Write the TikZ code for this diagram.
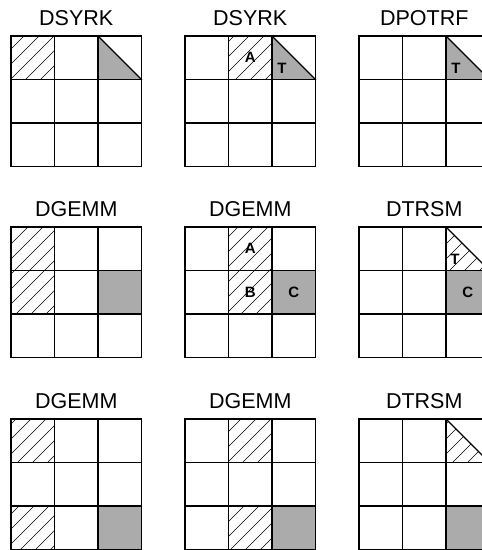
\documentclass[tikz,border=0pt]{standalone}
\usepackage{fontspec}
\setmainfont{Liberation Sans}
\tikzset{
  gridline/.style={line width=1.3pt, black, line cap=rect},
  hatchline/.style={line width=0.6pt, black},
  shade/.style={fill=black!33},
  title/.style={anchor=base, inner sep=0pt, font=\fontsize{21.5}{25}\selectfont},
  lab/.style={inner sep=0pt, font=\bfseries\fontsize{15}{17}\selectfont},
}
% grid of 3x3 cells, cell size 43.5
\newcommand\gridat[2]{%
  \foreach \i in {0,1,2,3}{%
    \draw[gridline] (#1+\i*43.5,#2) -- ++(0,130.5);
    \draw[gridline] (#1,#2+\i*43.5) -- ++(130.5,0);
  }}
\newcommand\hatchlines{\foreach \k in {0,15,...,1080}{\draw[hatchline] (\k,0) -- (\k-600,600);}}
\newcommand\hatchcell[4]{%
  \begin{scope}\clip (#1+#3*43.5,#2+#4*43.5) rectangle ++(43.5,43.5);\hatchlines\end{scope}}
\newcommand\fillcell[4]{%
  \fill[shade] (#1+#3*43.5,#2+#4*43.5) rectangle ++(43.5,43.5);}
\newcommand\tripath[4]{(#1+#3*43.5,#2+#4*43.5) -- ++(0,43.5) -- ++(43.5,0) -- cycle}
\newcommand\filltri[4]{%
  \fill[shade] \tripath{#1}{#2}{#3}{#4};
  \draw[gridline] (#1+#3*43.5,#2+#4*43.5) -- ++(43.5,43.5);}
\newcommand\hatchtri[4]{%
  \begin{scope}\clip \tripath{#1}{#2}{#3}{#4};\hatchlines\end{scope}
  \draw[gridline] (#1+#3*43.5,#2+#4*43.5) -- ++(43.5,43.5);}
\begin{document}
\begin{tikzpicture}[x=1pt,y=-1pt]
\useasboundingbox (0,0) rectangle (482,550);
\clip (0,0) rectangle (482,550);
\fill[white] (0,0) rectangle (482,550);

% ---------- row 1 ----------
\hatchcell{11}{36}{0}{0}
\filltri{11}{36}{2}{0}
\gridat{11}{36}
\node[title] (t11) at (76.25,25) {DSYRK};

\hatchcell{185}{36}{1}{0}
\filltri{185}{36}{2}{0}
\gridat{185}{36}
\node[title] (t12) at (250.25,25) {DSYRK};
\node[lab] (a12) at (250.25,57.75) {A};
\node[lab] (tt12) at (282,68) {T};

\filltri{359}{36}{2}{0}
\gridat{359}{36}
\node[title] (t13) at (424.25,25) {DPOTRF};
\node[lab] (tt13) at (456,68) {T};

% ---------- row 2 ----------
\hatchcell{11}{227}{0}{0}
\hatchcell{11}{227}{0}{1}
\fillcell{11}{227}{2}{1}
\gridat{11}{227}
\node[title] (t21) at (76.25,216) {DGEMM};

\hatchcell{185}{227}{1}{0}
\hatchcell{185}{227}{1}{1}
\fillcell{185}{227}{2}{1}
\gridat{185}{227}
\node[title] (t22) at (250.25,216) {DGEMM};
\node[lab] (a22) at (250.25,248.75) {A};
\node[lab] (b22) at (250.25,292.25) {B};
\node[lab] (c22) at (293.75,292.25) {C};

\hatchtri{359}{227}{2}{0}
\fillcell{359}{227}{2}{1}
\gridat{359}{227}
\node[title] (t23) at (424.25,216) {DTRSM};
\node[lab] (tt23) at (455,259) {T};
\node[lab] (c23) at (467.75,292.25) {C};

% ---------- row 3 ----------
\hatchcell{11}{419}{0}{0}
\hatchcell{11}{419}{0}{2}
\fillcell{11}{419}{2}{2}
\gridat{11}{419}
\node[title] (t31) at (76.25,408) {DGEMM};

\hatchcell{185}{419}{1}{0}
\hatchcell{185}{419}{1}{2}
\fillcell{185}{419}{2}{2}
\gridat{185}{419}
\node[title] (t32) at (250.25,408) {DGEMM};

\hatchtri{359}{419}{2}{0}
\fillcell{359}{419}{2}{2}
\gridat{359}{419}
\node[title] (t33) at (424.25,408) {DTRSM};
\end{tikzpicture}
\end{document}
